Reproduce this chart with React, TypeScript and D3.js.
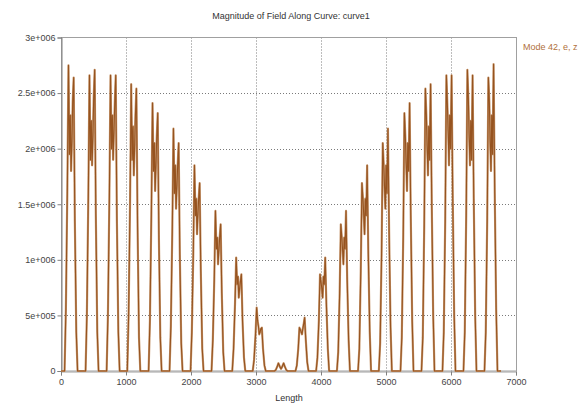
import React, { useEffect, useRef } from "react";
import * as d3 from "d3";

// hump centres along the curve (Length units)
const humpCenters = [
  155, 478, 802, 1120, 1448, 1770, 2093, 2416, 2735, 3050, 3385, 3708, 4025, 4345,
  4670, 4990, 5323, 5646, 5969, 6292, 6615,
];

// sample offsets inside one hump, relative to its centre
const humpOffsets = [-100, -80, -58, -40, -25, -12, 0, 12, 25, 40, 58, 80, 100];

// field magnitude for each hump sample, in units of 1e6
const humpValues = [
  [0, 0.55, 1.6, 2.75, 1.95, 2.3, 1.8, 2.05, 2.42, 2.64, 1.35, 0.35, 0],
  [0, 0.5, 1.55, 2.66, 1.9, 2.25, 1.85, 2.1, 2.45, 2.71, 1.4, 0.35, 0],
  [0, 0.5, 1.55, 2.66, 2.0, 2.3, 1.9, 2.15, 2.4, 2.66, 1.35, 0.35, 0],
  [0, 0.5, 1.5, 2.58, 1.9, 2.2, 1.76, 2.0, 2.3, 2.54, 1.3, 0.3, 0],
  [0, 0.45, 1.4, 2.41, 1.8, 2.05, 1.62, 1.85, 2.1, 2.32, 1.2, 0.3, 0],
  [0, 0.4, 1.25, 2.18, 1.6, 1.85, 1.46, 1.65, 1.85, 2.05, 1.05, 0.25, 0],
  [0, 0.35, 1.05, 1.85, 1.4, 1.55, 1.23, 1.4, 1.55, 1.69, 0.9, 0.2, 0],
  [0, 0.28, 0.82, 1.44, 1.1, 1.2, 0.96, 1.08, 1.2, 1.32, 0.7, 0.17, 0],
  [0, 0.2, 0.6, 1.02, 0.78, 0.85, 0.66, 0.74, 0.8, 0.87, 0.45, 0.12, 0],
  [0, 0.1, 0.32, 0.57, 0.45, 0.4, 0.33, 0.35, 0.38, 0.39, 0.2, 0.05, 0],
  [0, 0.01, 0.04, 0.07, 0.05, 0.03, 0.02, 0.03, 0.05, 0.07, 0.04, 0.01, 0],
  [0, 0.05, 0.2, 0.39, 0.37, 0.35, 0.33, 0.38, 0.42, 0.48, 0.28, 0.08, 0],
  [0, 0.12, 0.45, 0.87, 0.8, 0.74, 0.66, 0.85, 0.78, 1.02, 0.6, 0.2, 0],
  [0, 0.17, 0.7, 1.32, 1.2, 1.08, 0.96, 1.2, 1.1, 1.44, 0.82, 0.28, 0],
  [0, 0.2, 0.9, 1.69, 1.55, 1.4, 1.23, 1.55, 1.4, 1.85, 1.05, 0.35, 0],
  [0, 0.25, 1.05, 2.05, 1.85, 1.65, 1.46, 1.85, 1.6, 2.18, 1.25, 0.4, 0],
  [0, 0.3, 1.2, 2.32, 2.1, 1.85, 1.62, 2.05, 1.8, 2.41, 1.4, 0.45, 0],
  [0, 0.3, 1.3, 2.54, 2.3, 2.0, 1.76, 2.2, 1.9, 2.58, 1.5, 0.5, 0],
  [0, 0.35, 1.35, 2.66, 2.4, 2.15, 1.85, 2.3, 2.0, 2.66, 1.55, 0.5, 0],
  [0, 0.35, 1.4, 2.71, 2.45, 2.1, 1.85, 2.25, 1.9, 2.66, 1.55, 0.5, 0],
  [0, 0.35, 1.35, 2.64, 2.42, 2.05, 1.8, 2.3, 1.95, 2.76, 1.6, 0.55, 0],
];

const curveStart = 0;
const curveEnd = 6770;

const xTicks = [0, 1000, 2000, 3000, 4000, 5000, 6000, 7000];
const yTicks = [0, 5e5, 1e6, 1.5e6, 2e6, 2.5e6, 3e6];
const yTickLabels = ["0", "5e+005", "1e+006", "1.5e+006", "2e+006", "2.5e+006", "3e+006"];

const App = () => {
  const svgRef = useRef<SVGSVGElement>(null);
  const width = 586;
  const height = 403;

  useEffect(() => {
    const margin = { top: 37.5, right: 70, bottom: 32, left: 61 };
    const svg = d3.select(svgRef.current);
    svg.selectAll("*").remove();
    svg.attr("width", width).attr("height", height);

    const font = "'Liberation Sans', Arial, sans-serif";

    // build the point list: baseline, humps, baseline
    const points: [number, number][] = [[curveStart, 0]];
    humpCenters.forEach((c, i) => {
      humpOffsets.forEach((o, j) => points.push([c + o, humpValues[i][j] * 1e6]));
    });
    points.push([curveEnd, 0]);

    const x = d3.scaleLinear().domain([0, 7000]).range([margin.left, width - margin.right]);
    const y = d3.scaleLinear().domain([0, 3e6]).range([height - margin.bottom, margin.top]);

    svg.append("rect").attr("width", width).attr("height", height).attr("fill", "white");

    // title
    svg
      .append("text")
      .attr("x", 291)
      .attr("y", 19)
      .attr("text-anchor", "middle")
      .style("font-family", font)
      .style("font-size", "9px")
      .attr("fill", "#333")
      .text("Magnitude of Field Along Curve: curve1");

    // dotted grid
    const grid = svg.append("g").attr("stroke", "#7a7a7a").attr("stroke-dasharray", "1,2");
    xTicks.slice(1, -1).forEach((t) => {
      grid
        .append("line")
        .attr("x1", Math.round(x(t)) + 0.5)
        .attr("x2", Math.round(x(t)) + 0.5)
        .attr("y1", y(3e6))
        .attr("y2", y(0));
    });
    yTicks.slice(1, -1).forEach((t) => {
      grid
        .append("line")
        .attr("x1", x(0))
        .attr("x2", x(7000))
        .attr("y1", Math.round(y(t)) + 0.5)
        .attr("y2", Math.round(y(t)) + 0.5);
    });

    // frame
    svg
      .append("rect")
      .attr("x", x(0) + 0.5)
      .attr("y", y(3e6))
      .attr("width", x(7000) - x(0))
      .attr("height", y(0) - y(3e6))
      .attr("fill", "none")
      .attr("stroke", "#a0a0a0");

    // y axis
    const yAxis = svg
      .append("g")
      .attr("transform", `translate(${x(0) + 0.5},0)`)
      .call(
        d3
          .axisLeft(y)
          .tickValues(yTicks)
          .tickFormat((d, i) => yTickLabels[i])
          .tickSize(4)
          .tickPadding(2)
      );
    yAxis.select(".domain").attr("stroke", "#808080");
    yAxis.selectAll(".tick line").attr("stroke", "#808080");
    yAxis
      .selectAll("text")
      .style("font-family", font)
      .style("font-size", "9px")
      .attr("fill", "#444");

    // x axis
    const xAxis = svg
      .append("g")
      .attr("transform", `translate(0,${y(0) + 0.5})`)
      .call(d3.axisBottom(x).tickValues(xTicks).tickFormat(d3.format("d")).tickSize(4).tickPadding(3));
    xAxis.select(".domain").attr("stroke", "#a0a0a0");
    xAxis.selectAll(".tick line").attr("stroke", "#808080");
    xAxis
      .selectAll("text")
      .style("font-family", font)
      .style("font-size", "9px")
      .attr("fill", "#444");

    svg
      .append("text")
      .attr("x", 289)
      .attr("y", 401)
      .attr("text-anchor", "middle")
      .style("font-family", font)
      .style("font-size", "9px")
      .attr("fill", "#333")
      .text("Length");

    // the curve: light halo under a darker core
    const line = d3
      .line<[number, number]>()
      .x((d) => x(d[0]))
      .y((d) => y(d[1]));

    svg
      .append("path")
      .datum(points)
      .attr("fill", "none")
      .attr("stroke", "#c89a72")
      .attr("stroke-width", 2.2)
      .attr("stroke-linejoin", "round")
      .attr("d", line);

    svg
      .append("path")
      .datum(points)
      .attr("fill", "none")
      .attr("stroke", "#96531f")
      .attr("stroke-width", 1.1)
      .attr("stroke-linejoin", "round")
      .attr("d", line);

    // legend
    svg
      .append("text")
      .attr("x", 523)
      .attr("y", 50)
      .style("font-family", font)
      .style("font-size", "9px")
      .attr("fill", "#b0703c")
      .text("Mode 42, e, z");
  }, []);

  return <svg ref={svgRef} style={{ position: "absolute", left: 0, top: 0 }}></svg>;
};

export default App;
